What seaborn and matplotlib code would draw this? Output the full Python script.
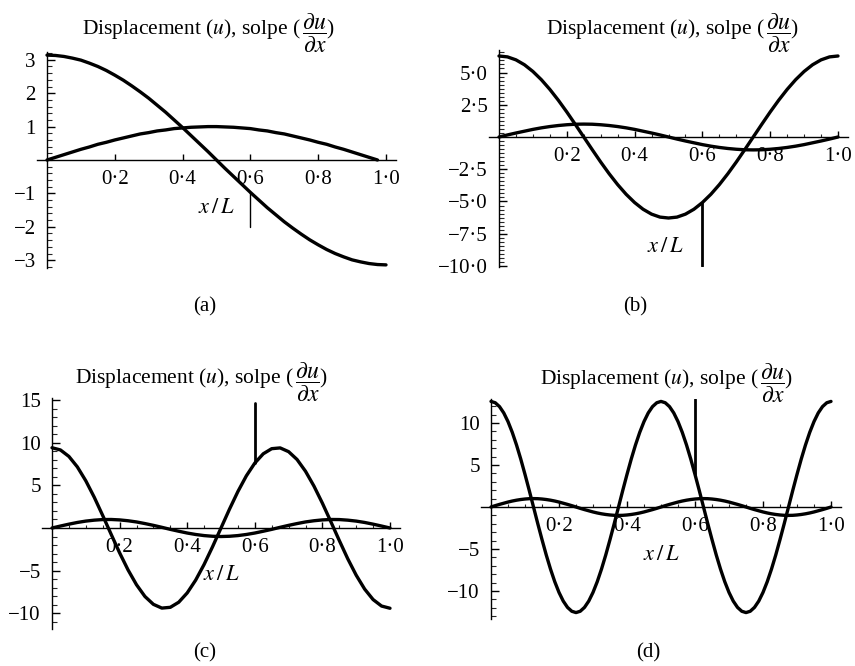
import matplotlib
matplotlib.use("Agg")
import matplotlib.pyplot as plt
import seaborn as sns
from matplotlib.ticker import FixedLocator, FixedFormatter, AutoMinorLocator, NullLocator

# ---------------- data ----------------
X = [0.000, 0.025, 0.050, 0.075, 0.100, 0.125, 0.150, 0.175, 0.200, 0.225,
     0.250, 0.275, 0.300, 0.325, 0.350, 0.375, 0.400, 0.425, 0.450, 0.475,
     0.500, 0.525, 0.550, 0.575, 0.600, 0.625, 0.650, 0.675, 0.700, 0.725,
     0.750, 0.775, 0.800, 0.825, 0.850, 0.875, 0.900, 0.925, 0.950, 0.975,
     1.000]

# finer sampling for panel (d), whose waves are shorter
XF = [0.0000, 0.0125, 0.0250, 0.0375, 0.0500, 0.0625, 0.0750, 0.0875, 0.1000, 0.1125,
      0.1250, 0.1375, 0.1500, 0.1625, 0.1750, 0.1875, 0.2000, 0.2125, 0.2250, 0.2375,
      0.2500, 0.2625, 0.2750, 0.2875, 0.3000, 0.3125, 0.3250, 0.3375, 0.3500, 0.3625,
      0.3750, 0.3875, 0.4000, 0.4125, 0.4250, 0.4375, 0.4500, 0.4625, 0.4750, 0.4875,
      0.5000, 0.5125, 0.5250, 0.5375, 0.5500, 0.5625, 0.5750, 0.5875, 0.6000, 0.6125,
      0.6250, 0.6375, 0.6500, 0.6625, 0.6750, 0.6875, 0.7000, 0.7125, 0.7250, 0.7375,
      0.7500, 0.7625, 0.7750, 0.7875, 0.8000, 0.8125, 0.8250, 0.8375, 0.8500, 0.8625,
      0.8750, 0.8875, 0.9000, 0.9125, 0.9250, 0.9375, 0.9500, 0.9625, 0.9750, 0.9875,
      1.0000]

# (a) displacement ends at x/L ~ 0.975
disp_a = [0.00, 0.08, 0.16, 0.24, 0.32, 0.39, 0.47, 0.53, 0.60, 0.66,
          0.72, 0.78, 0.82, 0.87, 0.90, 0.94, 0.96, 0.98, 0.99, 1.00,
          1.00, 0.99, 0.98, 0.96, 0.94, 0.90, 0.87, 0.82, 0.78, 0.72,
          0.66, 0.60, 0.53, 0.47, 0.39, 0.32, 0.24, 0.16, 0.08, 0.00]
slope_a = [3.14, 3.13, 3.10, 3.05, 2.99, 2.90, 2.80, 2.68, 2.54, 2.39,
           2.22, 2.04, 1.85, 1.64, 1.43, 1.20, 0.97, 0.73, 0.49, 0.25,
           0.00, -0.25, -0.49, -0.73, -0.97, -1.20, -1.43, -1.64, -1.85, -2.04,
           -2.22, -2.39, -2.54, -2.68, -2.80, -2.90, -2.99, -3.05, -3.10, -3.13,
           -3.14]

disp_b = [0.00, 0.16, 0.31, 0.45, 0.59, 0.71, 0.81, 0.89, 0.95, 0.99,
          1.00, 0.99, 0.95, 0.89, 0.81, 0.71, 0.59, 0.45, 0.31, 0.16,
          0.00, -0.16, -0.31, -0.45, -0.59, -0.71, -0.81, -0.89, -0.95, -0.99,
          -1.00, -0.99, -0.95, -0.89, -0.81, -0.71, -0.59, -0.45, -0.31, -0.16,
          0.00]
slope_b = [6.28, 6.21, 5.98, 5.60, 5.08, 4.44, 3.69, 2.85, 1.94, 0.98,
           0.00, -0.98, -1.94, -2.85, -3.69, -4.44, -5.08, -5.60, -5.98, -6.21,
           -6.28, -6.21, -5.98, -5.60, -5.08, -4.44, -3.69, -2.85, -1.94, -0.98,
           0.00, 0.98, 1.94, 2.85, 3.69, 4.44, 5.08, 5.60, 5.98, 6.21,
           6.28]

disp_c = [0.00, 0.23, 0.45, 0.65, 0.81, 0.92, 0.99, 1.00, 0.95, 0.85,
          0.71, 0.52, 0.31, 0.08, -0.16, -0.38, -0.59, -0.76, -0.89, -0.97,
          -1.00, -0.97, -0.89, -0.76, -0.59, -0.38, -0.16, 0.08, 0.31, 0.52,
          0.71, 0.85, 0.95, 1.00, 0.99, 0.92, 0.81, 0.65, 0.45, 0.23,
          0.00]
slope_c = [9.42, 9.16, 8.40, 7.17, 5.54, 3.61, 1.47, -0.74, -2.91, -4.92,
           -6.66, -8.04, -8.96, -9.40, -9.31, -8.71, -7.62, -6.12, -4.28, -2.20,
           0.00, 2.20, 4.28, 6.12, 7.62, 8.71, 9.31, 9.40, 8.96, 8.04,
           6.66, 4.92, 2.91, 0.74, -1.47, -3.61, -5.54, -7.17, -8.40, -9.16,
           -9.42]

disp_d = [0.00, 0.16, 0.31, 0.45, 0.59, 0.71, 0.81, 0.89, 0.95, 0.99,
          1.00, 0.99, 0.95, 0.89, 0.81, 0.71, 0.59, 0.45, 0.31, 0.16,
          0.00, -0.16, -0.31, -0.45, -0.59, -0.71, -0.81, -0.89, -0.95, -0.99,
          -1.00, -0.99, -0.95, -0.89, -0.81, -0.71, -0.59, -0.45, -0.31, -0.16,
          0.00, 0.16, 0.31, 0.45, 0.59, 0.71, 0.81, 0.89, 0.95, 0.99,
          1.00, 0.99, 0.95, 0.89, 0.81, 0.71, 0.59, 0.45, 0.31, 0.16,
          0.00, -0.16, -0.31, -0.45, -0.59, -0.71, -0.81, -0.89, -0.95, -0.99,
          -1.00, -0.99, -0.95, -0.89, -0.81, -0.71, -0.59, -0.45, -0.31, -0.16,
          0.00]
slope_d = [12.57, 12.41, 11.95, 11.20, 10.17, 8.89, 7.39, 5.71, 3.88, 1.97,
           0.00, -1.97, -3.88, -5.71, -7.39, -8.89, -10.17, -11.20, -11.95, -12.41,
           -12.57, -12.41, -11.95, -11.20, -10.17, -8.89, -7.39, -5.71, -3.88, -1.97,
           0.00, 1.97, 3.88, 5.71, 7.39, 8.89, 10.17, 11.20, 11.95, 12.41,
           12.57, 12.41, 11.95, 11.20, 10.17, 8.89, 7.39, 5.71, 3.88, 1.97,
           0.00, -1.97, -3.88, -5.71, -7.39, -8.89, -10.17, -11.20, -11.95, -12.41,
           -12.57, -12.41, -11.95, -11.20, -10.17, -8.89, -7.39, -5.71, -3.88, -1.97,
           0.00, 1.97, 3.88, 5.71, 7.39, 8.89, 10.17, 11.20, 11.95, 12.41,
           12.57]

# vertical marker at x/L = 0.6 (from, to)
marker_x = 0.6
marker_a = [-0.97, -2.0]
marker_b = [-5.08, -10.0]
marker_c = [7.62, 14.7]
marker_d = [3.88, 12.9]

x_ticks = [0.2, 0.4, 0.6, 0.8, 1.0]
x_ticklabels = ["0·2", "0·4", "0·6", "0·8", "1·0"]
x_minor = [0.05, 0.10, 0.15, 0.25, 0.30, 0.35, 0.45, 0.50, 0.55,
           0.65, 0.70, 0.75, 0.85, 0.90, 0.95]

y_ticks_a = [-3, -2, -1, 1, 2, 3]
y_labels_a = ["−3", "−2", "−1", "1", "2", "3"]
y_ticks_b = [-10.0, -7.5, -5.0, -2.5, 2.5, 5.0]
y_labels_b = ["−10·0", "−7·5", "−5·0", "−2·5", "2·5", "5·0"]
y_ticks_c = [-10, -5, 5, 10, 15]
y_labels_c = ["−10", "−5", "5", "10", "15"]
y_ticks_d = [-10, -5, 5, 10]
y_labels_d = ["−10", "−5", "5", "10"]

TITLE_LEFT = r"Displacement ($u$), solpe ("
TITLE_FRAC = r"$\dfrac{\partial u}{\partial x}$"
TITLE_RIGHT = ")"
XLABEL = r"$x\,/\,L$"
panel_names = ["(a)", "(b)", "(c)", "(d)"]

# ---------------- style ----------------
sns.set_theme(style="white")
plt.rcParams["font.family"] = ["Liberation Serif", "DejaVu Serif"]
plt.rcParams["mathtext.fontset"] = "stix"

W, H = 855, 666
fig = plt.figure(figsize=(W / 100, H / 100), dpi=100)
fig.patch.set_facecolor("white")

# title: (fraction centre x, text baseline y) in pixels
panels = [
    dict(disp=disp_a, dx=X[:40], sx=X, slope=slope_a, mark=marker_a,
         yt=y_ticks_a, yl=y_labels_a, x0=47, x1=386, y0=160, sc=33.4,
         ylim=(-3.22, 3.22), ymin=5, xminor=False, mlw=1.0,
         title=(314, 34), plab=(205, 307), xl=(0.50, -1.45)),
    dict(disp=disp_b, dx=X, sx=X, slope=slope_b, mark=marker_b,
         yt=y_ticks_b, yl=y_labels_b, x0=499, x1=838, y0=137, sc=12.9,
         ylim=(-10.1, 6.75), ymin=8, xminor=True, mlw=2.0,
         title=(778, 34), plab=(635, 307), xl=(0.49, -8.6)),
    dict(disp=disp_c, dx=X, sx=X, slope=slope_c, mark=marker_c,
         yt=y_ticks_c, yl=y_labels_c, x0=52, x1=390, y0=528, sc=8.52,
         ylim=(-11.9, 15.3), ymin=5, xminor=True, mlw=2.0,
         title=(307, 383), plab=(205, 653), xl=(0.50, -5.6)),
    dict(disp=disp_d, dx=XF, sx=XF, slope=slope_d, mark=marker_d,
         yt=y_ticks_d, yl=y_labels_d, x0=491, x1=831, y0=507, sc=8.4,
         ylim=(-13.3, 12.9), ymin=5, xminor=True, mlw=2.0,
         title=(772, 384), plab=(648, 653), xl=(0.50, -5.8)),
]

XLIM = (-0.03, 1.03)
FS_TICK = 15
FS_TITLE = 15.5
FS_LAB = 15


def fx(px):
    return px / W


def fy(py):
    return 1 - py / H


for i, p in enumerate(panels):
    span = p["x1"] - p["x0"]
    left = p["x0"] + XLIM[0] * span
    right = p["x0"] + XLIM[1] * span
    top = p["y0"] - p["ylim"][1] * p["sc"]
    bottom = p["y0"] - p["ylim"][0] * p["sc"]
    ax = fig.add_axes([fx(left), fy(bottom), (right - left) / W, (bottom - top) / H])
    ax.set_facecolor("none")

    sns.lineplot(x=p["dx"], y=p["disp"], ax=ax, color="black", linewidth=2.4,
                 estimator=None, sort=False)
    sns.lineplot(x=p["sx"], y=p["slope"], ax=ax, color="black", linewidth=2.4,
                 estimator=None, sort=False)
    sns.lineplot(x=[marker_x, marker_x], y=p["mark"], ax=ax, color="black",
                 linewidth=p["mlw"], estimator=None, sort=False)

    ax.set_xlim(*XLIM)
    ax.set_ylim(*p["ylim"])
    for s in ["top", "right"]:
        ax.spines[s].set_visible(False)
    ax.spines["left"].set_position(("data", 0))
    ax.spines["bottom"].set_position(("data", 0))
    for s in ["left", "bottom"]:
        ax.spines[s].set_color("black")
        ax.spines[s].set_linewidth(1.0)

    ax.xaxis.set_major_locator(FixedLocator(x_ticks))
    ax.xaxis.set_major_formatter(FixedFormatter(x_ticklabels))
    if p["xminor"]:
        ax.xaxis.set_minor_locator(FixedLocator(x_minor))
    else:
        ax.xaxis.set_minor_locator(NullLocator())
    ax.yaxis.set_major_locator(FixedLocator(p["yt"]))
    ax.yaxis.set_major_formatter(FixedFormatter(p["yl"]))
    ax.yaxis.set_minor_locator(AutoMinorLocator(p["ymin"]))

    ax.tick_params(axis="x", which="major", direction="in", length=4, width=1.0,
                   pad=7, labelsize=FS_TICK, colors="black", bottom=True)
    ax.tick_params(axis="x", which="minor", direction="in", length=2.5, width=0.8,
                   bottom=True)
    ax.tick_params(axis="y", which="major", direction="in", length=5.5, width=1.0,
                   pad=8, labelsize=FS_TICK, colors="black", left=True)
    ax.tick_params(axis="y", which="minor", direction="in", length=3.5, width=0.8,
                   left=True)
    ax.set_xlabel("")
    ax.set_ylabel("")
    ax.grid(False)

    ax.text(p["xl"][0], p["xl"][1], XLABEL, ha="center", va="center",
            fontsize=16, color="black")

    # title: text, then a display-size fraction, then the closing parenthesis
    cx, base = p["title"]
    fig.text(fx(cx - 13), fy(base), TITLE_LEFT, ha="right", va="baseline",
             fontsize=FS_TITLE, color="black")
    fig.text(fx(cx), fy(base - 1), TITLE_FRAC, ha="center", va="center",
             fontsize=17, color="black")
    fig.text(fx(cx + 12.5), fy(base), TITLE_RIGHT, ha="left", va="baseline",
             fontsize=FS_TITLE, color="black")

    fig.text(fx(p["plab"][0]), fy(p["plab"][1]), panel_names[i], ha="center",
             va="center", fontsize=FS_LAB, color="black")

fig.savefig("out.png", dpi=100, facecolor="white")
